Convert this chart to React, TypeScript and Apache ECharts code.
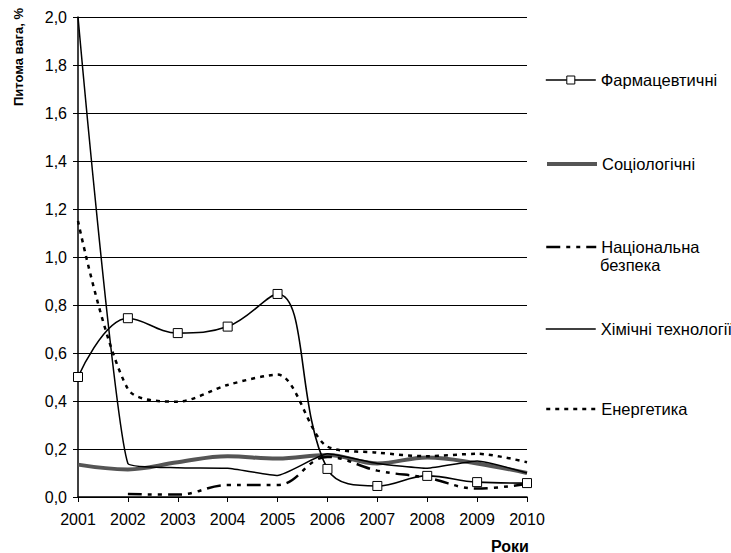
import React, { useEffect, useRef } from "react";
import * as echarts from "echarts";

const years = ["2001", "2002", "2003", "2004", "2005", "2006", "2007", "2008", "2009", "2010"];
const pharma = [0.5, 0.745, 0.683, 0.71, 0.846, 0.117, 0.046, 0.088, 0.062, 0.058];
const sociology = [0.135, 0.115, 0.145, 0.17, 0.16, 0.175, 0.14, 0.165, 0.14, 0.1];
const security = [null, 0.012, 0.01, 0.05, 0.05, 0.167, 0.11, 0.08, 0.035, 0.055];
const chemistry = [2.0, 0.14, 0.122, 0.12, 0.09, 0.18, 0.14, 0.12, 0.15, 0.1];
const energy = [1.15, 0.45, 0.397, 0.467, 0.51, 0.21, 0.185, 0.17, 0.18, 0.145];

const names = ["Фармацевтичні", "Соціологічні", "Національна безпека", "Хімічні технології", "Енергетика"];
const legendLabels = ["Фармацевтичні", "Соціологічні", "Національна", "Хімічні технології", "Енергетика"];
const legendCenters = [80, 164, 247, 329, 409];

const FONT = "Liberation Sans";

const lineStyles = [
  { color: "#000", width: 1.6, type: "solid" },
  { color: "#555", width: 4, type: "solid" },
  { color: "#000", width: 2.5, type: [14, 6, 4, 6, 4, 6] },
  { color: "#000", width: 1.5, type: "solid" },
  { color: "#000", width: 2.5, type: [4, 5] },
];

export default function App() {
  const ref = useRef<HTMLDivElement>(null);
  useEffect(() => {
    if (!ref.current) return;
    const chart = echarts.init(ref.current, undefined, { renderer: "svg" });
    const legends = names.map((n, i) => ({
      orient: "vertical",
      left: 545,
      top: legendCenters[i] - 9,
      itemWidth: 50,
      itemHeight: i === 0 ? 10 : 18,
      itemGap: 0,
      padding: 0,
      data: [n],
      formatter: () => legendLabels[i],
      itemStyle: i === 0 ? { color: "#fff", borderColor: "#000", borderWidth: 1 } : { opacity: 0 },
      lineStyle: { color: lineStyles[i].color, width: lineStyles[i].width, type: lineStyles[i].type },
      textStyle: {
        fontFamily: FONT,
        fontSize: 16.5,
        color: "#000",
        lineHeight: 18,
      },
    }));
    chart.setOption({
      animation: false,
      backgroundColor: "#fff",
      grid: { left: 78, right: 204, top: 17, bottom: 56, containLabel: false },
      legend: legends,
      xAxis: {
        type: "category",
        data: years,
        boundaryGap: false,
        axisLine: { lineStyle: { color: "#000", width: 1.5 } },
        axisTick: { show: true, length: 5, inside: false, lineStyle: { color: "#000" } },
        axisLabel: { fontFamily: FONT, fontSize: 16, color: "#000", margin: 14, interval: 0 },
        splitLine: { show: false },
      },
      yAxis: {
        type: "value",
        min: 0,
        max: 2,
        interval: 0.2,
        axisLine: { show: true, lineStyle: { color: "#000", width: 1.5 } },
        axisTick: { show: true, length: 5, lineStyle: { color: "#000" } },
        axisLabel: {
          fontFamily: FONT,
          fontSize: 16,
          color: "#000",
          margin: 11,
          formatter: (v: number) => v.toFixed(1).replace(".", ","),
        },
        splitLine: { show: true, lineStyle: { color: "#000", width: 1 } },
      },
      graphic: [
        {
          type: "text",
          x: 18,
          y: 57,
          rotation: Math.PI / 2,
          style: {
            text: "Питома вага, %",
            fontFamily: FONT,
            fontSize: 13,
            fontWeight: "bold",
            fill: "#000",
            align: "center",
            verticalAlign: "middle",
          },
        },
        {
          type: "text",
          x: 510,
          y: 546,
          style: {
            text: "Роки",
            fontFamily: FONT,
            fontSize: 16,
            fontWeight: "bold",
            fill: "#000",
            align: "center",
            verticalAlign: "middle",
          },
        },
        {
          type: "text",
          x: 600,
          y: 265,
          style: {
            text: "безпека",
            fontFamily: FONT,
            fontSize: 16.5,
            fill: "#000",
            align: "left",
            verticalAlign: "middle",
          },
        },
      ],
      series: [
        {
          name: names[1],
          type: "line",
          data: sociology,
          smooth: 0.4,
          symbol: "none",
          lineStyle: lineStyles[1],
          itemStyle: { color: "#555" },
        },
        {
          name: names[2],
          type: "line",
          data: security,
          smooth: 0.4,
          symbol: "none",
          lineStyle: lineStyles[2],
          itemStyle: { color: "#000" },
        },
        {
          name: names[4],
          type: "line",
          data: energy,
          smooth: 0.3,
          symbol: "none",
          lineStyle: lineStyles[4],
          itemStyle: { color: "#000" },
        },
        {
          name: names[3],
          type: "line",
          data: chemistry,
          smooth: 0.15,
          symbol: "none",
          lineStyle: lineStyles[3],
          itemStyle: { color: "#000" },
        },
        {
          name: names[0],
          type: "line",
          data: pharma,
          smooth: 0.4,
          symbol: "rect",
          symbolSize: 9,
          showSymbol: true,
          lineStyle: lineStyles[0],
          itemStyle: { color: "#fff", borderColor: "#000", borderWidth: 1 },
          z: 5,
        },
      ],
    });
    return () => chart.dispose();
  }, []);
  return <div ref={ref} style={{ width: 731, height: 553, position: "absolute", left: 0, top: 0 }} />;
}
